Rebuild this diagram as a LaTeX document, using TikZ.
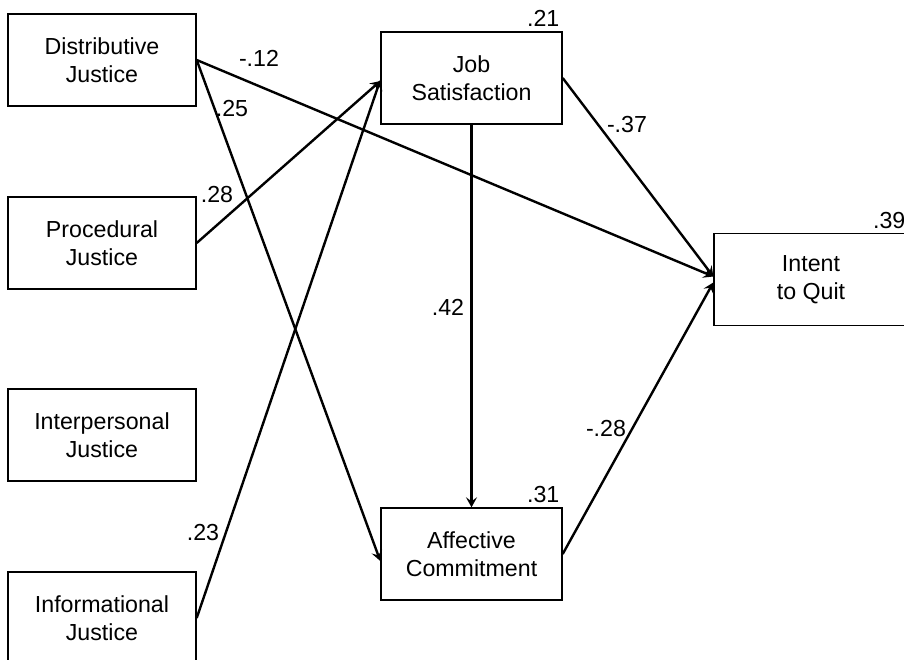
\documentclass[tikz,border=0pt]{standalone}
\usepackage{fontspec}
\setmainfont{Liberation Sans}
\usetikzlibrary{arrows.meta,positioning,calc}

\tikzset{
  construct/.style={draw, line width=0.7pt, minimum width=94pt, minimum height=46pt,
        align=center, inner sep=0pt, font=\fontsize{11.6}{14}\selectfont},
  mediator/.style={construct, minimum width=90.5pt},
  path/.style={-{Stealth[length=5pt, width=5.5pt, inset=2pt]}, line width=1.2pt},
  coef/.style={inner sep=0pt, font=\fontsize{11.6}{14}\selectfont},
  rsq/.style={coef, anchor=south east, xshift=-1.5pt, yshift=2pt}
}

\begin{document}
\begin{tikzpicture}[x=0.5pt, y=-0.5pt]
  \useasboundingbox (0,0) rectangle (904,659);

  % justice dimensions
  \node[construct] (dist)  at (102, 60)  {Distributive\\Justice};
  \node[construct] (proc)  at (102, 243) {Procedural\\Justice};
  \node[construct] (inter) at (102, 435) {Interpersonal\\Justice};
  \node[construct] (info)  at (102, 618) {Informational\\Justice};

  % mediators and outcome
  \node[mediator] (job)  at (471.5, 78)  {Job\\Satisfaction};
  \node[mediator] (aff)  at (471.5, 554) {Affective\\Commitment};
  \node[construct, minimum width=97pt] (quit) at (811, 279.5) {Intent\\to Quit};

  % explained variance
  \node[rsq] (r2job)  at (job.north east)  {.21};
  \node[rsq] (r2aff)  at (aff.north east)  {.31};
  \node[rsq] (r2quit) at (quit.north east) {.39};

  % paths
  \draw[path] (dist.east) -- ([yshift=1.5pt]quit.west);
  \draw[path] (dist.east) -- ([yshift=-3.5pt]aff.west);
  \draw[path] (proc.east) -- ([yshift=-1.5pt]job.west);
  \draw[path] (info.east) -- ([yshift=-1pt]job.west);
  \draw[path] (job.south) -- (aff.north);
  \draw[path] (job.east)  -- ([yshift=1.5pt]quit.west);
  \draw[path] (aff.east)  -- ([yshift=-1.5pt]quit.west);

  % coefficients
  \node[coef] (c-dq) at (259, 58)  {-.12};
  \node[coef] (c-da) at (232, 109) {.25};
  \node[coef] (c-pj) at (217, 195) {.28};
  \node[coef] (c-ij) at (203, 533) {.23};
  \node[coef] (c-jq) at (627, 125) {-.37};
  \node[coef] (c-ja) at (448, 307) {.42};
  \node[coef] (c-aq) at (606, 429) {-.28};
\end{tikzpicture}
\end{document}
